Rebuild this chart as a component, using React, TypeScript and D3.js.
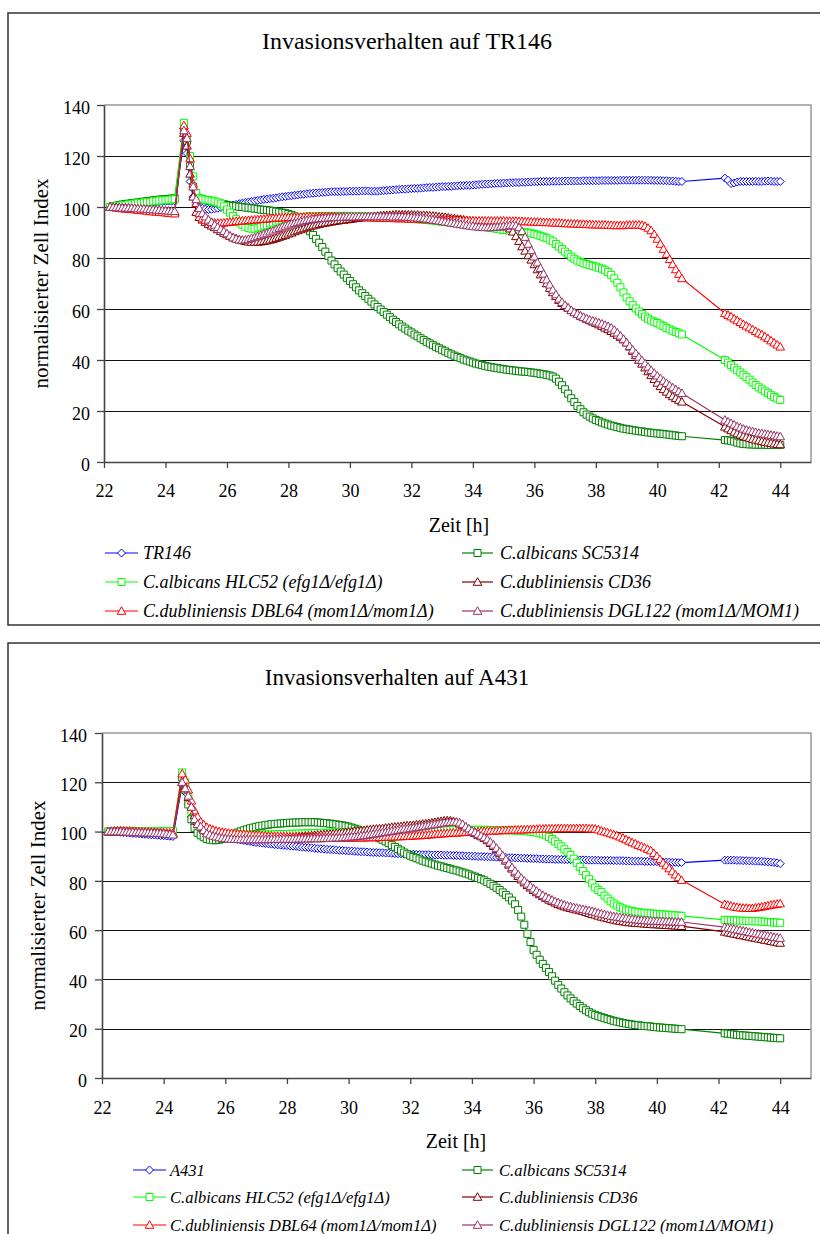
import React, { useEffect, useRef } from 'react'
import * as d3 from 'd3'

// sampling times [h], same for both plates (no readings 40.8 - 42.2)
const hours = [
  22.2, 22.3, 22.4, 22.5, 22.6, 22.7, 22.8, 22.9, 23.0, 23.1, 23.2,
  23.3, 23.4, 23.5, 23.6, 23.7, 23.8, 23.9, 24.0, 24.1, 24.2, 24.3,
  24.6, 24.7, 24.8, 24.9, 25.0, 25.1, 25.2, 25.3, 25.4, 25.5,
  25.6, 25.7, 25.8, 25.9, 26.0, 26.1, 26.2, 26.3, 26.4, 26.5,
  26.6, 26.7, 26.8, 26.9, 27.0, 27.1, 27.2, 27.3, 27.4, 27.5,
  27.6, 27.7, 27.8, 27.9, 28.0, 28.1, 28.2, 28.3, 28.4, 28.5,
  28.6, 28.7, 28.8, 28.9, 29.0, 29.1, 29.2, 29.3, 29.4, 29.5,
  29.6, 29.7, 29.8, 29.9, 30.0, 30.1, 30.2, 30.3, 30.4, 30.5,
  30.6, 30.7, 30.8, 30.9, 31.0, 31.1, 31.2, 31.3, 31.4, 31.5,
  31.6, 31.7, 31.8, 31.9, 32.0, 32.1, 32.2, 32.3, 32.4, 32.5,
  32.6, 32.7, 32.8, 32.9, 33.0, 33.1, 33.2, 33.3, 33.4, 33.5,
  33.6, 33.7, 33.8, 33.9, 34.0, 34.1, 34.2, 34.3, 34.4, 34.5,
  34.6, 34.7, 34.8, 34.9, 35.0, 35.1, 35.2, 35.3, 35.4, 35.5,
  35.6, 35.7, 35.8, 35.9, 36.0, 36.1, 36.2, 36.3, 36.4, 36.5,
  36.6, 36.7, 36.8, 36.9, 37.0, 37.1, 37.2, 37.3, 37.4, 37.5,
  37.6, 37.7, 37.8, 37.9, 38.0, 38.1, 38.2, 38.3, 38.4, 38.5,
  38.6, 38.7, 38.8, 38.9, 39.0, 39.1, 39.2, 39.3, 39.4, 39.5,
  39.6, 39.7, 39.8, 39.9, 40.0, 40.1, 40.2, 40.3, 40.4, 40.5,
  40.6, 40.7, 40.8,
  42.2, 42.3, 42.4, 42.5, 42.6, 42.7, 42.8, 42.9, 43.0, 43.1,
  43.2, 43.3, 43.4, 43.5, 43.6, 43.7, 43.8, 43.9, 44.0,
]

// ---- TR146 plate ----
const tr146 = [
  100, 100.2, 100.3, 100.4, 100.5, 100.7, 100.8, 100.9, 101, 101.1, 101.2,
  101.4, 101.5, 101.7, 101.8, 101.9, 102, 102.1, 102.2, 102.3, 102.3, 102.4,
  126, 121, 110, 104, 101, 100, 99.5, 99.2, 99, 99.1,
  99.3, 99.5, 99.8, 100, 100.3, 100.5, 100.8, 101, 101.3, 101.5,
  101.8, 102, 102.2, 102.4, 102.6, 102.8, 103, 103.1, 103.3, 103.4,
  103.6, 103.8, 104, 104.1, 104.3, 104.4, 104.6, 104.7, 104.9, 105,
  105.2, 105.3, 105.4, 105.5, 105.6, 105.7, 105.8, 105.9, 106, 106,
  106, 106, 106.1, 106.1, 106.2, 106.2, 106.2, 106.2, 106.3, 106.3,
  106.3, 106.2, 106.2, 106.2, 106.3, 106.4, 106.5, 106.6, 106.7, 106.8,
  106.9, 107, 107, 107.1, 107.2, 107.3, 107.3, 107.4, 107.5, 107.6,
  107.7, 107.7, 107.8, 107.9, 108, 108, 108.1, 108.1, 108.2, 108.3,
  108.4, 108.4, 108.5, 108.5, 108.6, 108.7, 108.8, 108.9, 109, 109,
  109.1, 109.2, 109.3, 109.3, 109.4, 109.4, 109.5, 109.5, 109.6, 109.6,
  109.7, 109.7, 109.8, 109.8, 109.9, 109.9, 110, 110, 110, 110,
  110.1, 110.1, 110.1, 110.1, 110.2, 110.2, 110.2, 110.2, 110.2, 110.2,
  110.3, 110.3, 110.3, 110.3, 110.3, 110.3, 110.4, 110.4, 110.4, 110.4,
  110.4, 110.4, 110.5, 110.5, 110.5, 110.5, 110.5, 110.5, 110.5, 110.5,
  110.5, 110.5, 110.5, 110.4, 110.4, 110.4, 110.3, 110.3, 110.2, 110.2,
  110.1, 110, 110,
  111.3, 110.5, 109.2, 109.4, 109.8, 110, 110, 110, 110, 110,
  110.1, 110, 110, 110.1, 110.2, 110.1, 110, 110, 110,
]
const sc5314Tr = [
  100, 100.3, 100.5, 100.8, 101, 101.2, 101.3, 101.5, 101.6, 101.8, 102,
  102.1, 102.3, 102.4, 102.6, 102.7, 102.9, 103, 103.1, 103.2, 103.3, 103.4,
  130, 126, 116, 108, 104.5, 103.5, 103, 102.7, 102.4, 102.2,
  101.8, 101.6, 101.3, 101.1, 100.8, 100.6, 100.4, 100.3, 100.1, 100,
  99.8, 99.7, 99.5, 99.4, 99.2, 99, 98.9, 98.8, 98.6, 98.4,
  98.2, 98, 97.8, 97.6, 97.3, 96.9, 96.3, 95.5, 94.5, 93.3,
  92, 90.5, 89, 87.5, 86, 84.3, 82.5, 80.8, 79, 77.5,
  76, 74.7, 73.5, 72.2, 71, 69.7, 68.5, 67.3, 66.2, 65.1,
  64, 62.9, 61.8, 60.8, 59.8, 58.8, 57.8, 56.8, 55.8, 54.9,
  54, 53.1, 52.3, 51.5, 50.8, 50, 49.3, 48.5, 47.8, 47.1,
  46.5, 45.8, 45.2, 44.6, 44, 43.4, 42.8, 42.2, 41.7, 41.2,
  40.7, 40.2, 39.8, 39.4, 39, 38.6, 38.3, 38, 37.7, 37.4,
  37.2, 37, 36.8, 36.6, 36.4, 36.2, 36.1, 35.9, 35.8, 35.6,
  35.5, 35.4, 35.3, 35.1, 35, 34.8, 34.6, 34.4, 34.2, 33.9,
  33.5, 32.7, 31.5, 30.1, 28.5, 26.8, 25, 23.5, 22, 20.7,
  19.5, 18.6, 17.8, 17.1, 16.5, 16, 15.5, 15.1, 14.7, 14.3,
  14, 13.7, 13.4, 13.1, 12.9, 12.7, 12.5, 12.3, 12.1, 12,
  11.8, 11.6, 11.5, 11.3, 11.2, 11.1, 11, 10.8, 10.7, 10.5,
  10.4, 10.2, 10.1,
  8.6, 8.5, 8.3, 8, 7.6, 7.3, 7.1, 7, 6.9, 6.9,
  6.8, 6.8, 6.8, 6.8, 6.7, 6.7, 6.7, 6.7, 6.7,
]
const hlc52Tr = [
  100, 100.2, 100.3, 100.5, 100.6, 100.8, 101, 101.2, 101.3, 101.5, 101.6,
  101.8, 101.9, 102, 102.2, 102.3, 102.5, 102.6, 102.7, 102.8, 102.9, 103,
  133, 127, 120, 112, 105.5, 103.5, 103, 102.9, 102.7, 102.5,
  102.2, 101.8, 101.3, 100.3, 99, 97.8, 96.5, 95.2, 94, 93,
  92.3, 91.8, 91.5, 91.5, 91.7, 92.1, 92.5, 93, 93.5, 93.9,
  94.3, 94.7, 95, 95.3, 95.5, 95.7, 95.8, 95.9, 96, 96.1,
  96.2, 96.3, 96.3, 96.4, 96.4, 96.5, 96.5, 96.5, 96.5, 96.5,
  96.5, 96.5, 96.5, 96.5, 96.5, 96.5, 96.4, 96.4, 96.3, 96.3,
  96.2, 96.2, 96.1, 96.1, 96, 96, 96, 96, 95.9, 95.9,
  95.8, 95.7, 95.6, 95.5, 95.4, 95.3, 95.2, 95.1, 95, 94.9,
  94.8, 94.7, 94.5, 94.4, 94.2, 94.1, 94, 93.9, 93.7, 93.6,
  93.4, 93.3, 93.1, 93, 92.8, 92.7, 92.5, 92.4, 92.2, 92,
  91.8, 91.6, 91.4, 91.2, 91, 90.9, 90.7, 90.6, 90.4, 90.3,
  90.2, 90.1, 89.9, 89.7, 89.4, 89.1, 88.7, 88.3, 87.8, 87.2,
  86.5, 85.5, 84.5, 83.5, 82.5, 81.5, 80.5, 79.7, 79, 78.5,
  78, 77.6, 77.2, 76.9, 76.6, 76.2, 75.8, 75.2, 74.5, 73.4,
  72, 70.3, 68.5, 66.5, 64.5, 63, 61.5, 60.2, 59, 58,
  57, 56.2, 55.5, 55, 54.5, 53.9, 53.3, 52.6, 52, 51.5,
  51, 50.5, 50,
  40, 39, 38, 37, 36, 35.1, 34.2, 33.3, 32.3, 31.2,
  30.2, 29.3, 28.5, 27.7, 27, 26.2, 25.5, 24.9, 24.3,
]
const cd36Tr = [
  100, 99.9, 99.9, 99.8, 99.8, 99.7, 99.6, 99.5, 99.4, 99.3, 99.2,
  99.1, 99, 98.9, 98.8, 98.6, 98.5, 98.4, 98.3, 98.2, 98, 97.9,
  129, 124, 113, 104, 98, 96, 95, 94.1, 93.3, 92.6,
  92, 91.2, 90.5, 89.8, 89.2, 88.6, 88, 87.6, 87.2, 86.9,
  86.6, 86.4, 86.3, 86.3, 86.3, 86.4, 86.6, 86.8, 87.1, 87.4,
  87.8, 88.2, 88.6, 89, 89.5, 89.9, 90.4, 90.8, 91.2, 91.6,
  92, 92.4, 92.7, 93, 93.3, 93.6, 93.8, 94, 94.2, 94.4,
  94.6, 94.8, 94.9, 95.1, 95.2, 95.4, 95.6, 95.7, 95.9, 96,
  96.2, 96.3, 96.4, 96.5, 96.6, 96.7, 96.8, 96.8, 96.9, 97,
  97, 97, 97, 97, 97, 96.9, 96.9, 96.8, 96.8, 96.7,
  96.6, 96.5, 96.4, 96.2, 96.1, 96, 95.8, 95.6, 95.5, 95.3,
  95.2, 95, 94.8, 94.6, 94.5, 94.3, 94.2, 94, 93.9, 93.7,
  93.6, 93.4, 93.3, 93.1, 92.8, 92.3, 91.5, 90.3, 88.5, 86.6,
  84.5, 82.8, 81, 79.3, 77.5, 75.5, 73.5, 71.7, 70, 68.2,
  66.5, 65, 63.5, 62.3, 61.3, 60.4, 59.5, 58.7, 58, 57.3,
  56.7, 56.1, 55.5, 55, 54.5, 53.9, 53.3, 52.6, 52, 51.3,
  50.6, 49.8, 49, 48, 46.8, 45.2, 43.5, 41.8, 40, 38.5,
  37, 35.5, 34, 32.5, 31, 29.7, 28.5, 27.5, 26.5, 25.7,
  25, 24.3, 23.6,
  13.8, 13.1, 12.4, 11.8, 11.2, 10.7, 10.2, 9.8, 9.4, 9,
  8.7, 8.4, 8.1, 7.8, 7.6, 7.4, 7.2, 7, 6.9,
]
const dbl64Tr = [
  100, 99.9, 99.7, 99.6, 99.4, 99.3, 99.2, 99.1, 99, 98.8, 98.7,
  98.6, 98.5, 98.3, 98.2, 98.1, 98, 97.9, 97.8, 97.6, 97.5, 97.4,
  132, 129, 119, 109, 101.5, 97.5, 95.5, 94.9, 94.5, 94.1,
  93.8, 93.7, 93.7, 93.8, 94, 94.1, 94.2, 94.4, 94.5, 94.6,
  94.7, 94.8, 94.9, 95, 95.1, 95.2, 95.3, 95.4, 95.5, 95.6,
  95.7, 95.8, 95.8, 95.9, 96, 96, 96, 96, 96.1, 96.1,
  96.2, 96.2, 96.2, 96.2, 96.3, 96.3, 96.3, 96.3, 96.3, 96.3,
  96.2, 96.2, 96.2, 96.1, 96.1, 96, 96, 96, 96, 95.9,
  95.9, 95.8, 95.8, 95.7, 95.7, 95.6, 95.6, 95.6, 95.6, 95.5,
  95.5, 95.5, 95.5, 95.4, 95.4, 95.3, 95.3, 95.2, 95.2, 95.1,
  95.1, 95, 95, 95, 95, 94.9, 94.9, 94.8, 94.8, 94.8,
  94.8, 94.7, 94.7, 94.6, 94.6, 94.6, 94.6, 94.6, 94.6, 94.6,
  94.6, 94.6, 94.6, 94.6, 94.6, 94.5, 94.5, 94.5, 94.5, 94.4,
  94.4, 94.3, 94.3, 94.2, 94.2, 94.1, 94.1, 94, 94, 93.9,
  93.9, 93.8, 93.8, 93.7, 93.6, 93.5, 93.5, 93.4, 93.4, 93.3,
  93.3, 93.2, 93.2, 93.1, 93.1, 93, 93, 93, 92.9, 92.9,
  92.8, 92.8, 92.8, 92.8, 92.9, 93, 93, 93, 93, 92.9,
  92.5, 91.8, 90.8, 89.3, 87.5, 85.5, 83.5, 81.5, 79.5, 77.5,
  75.5, 73.7, 72,
  58.3, 57.6, 57, 56.2, 55.5, 54.8, 54, 53.4, 52.7, 52,
  51.3, 50.6, 50, 49.2, 48.5, 47.6, 46.8, 46, 45.2,
]
const dgl122Tr = [
  100, 99.9, 99.8, 99.8, 99.7, 99.7, 99.6, 99.6, 99.5, 99.4, 99.3,
  99.3, 99.2, 99.1, 99, 98.9, 98.8, 98.7, 98.6, 98.5, 98.4, 98.3,
  130, 127, 116, 108, 103, 99.5, 97.5, 96.2, 95, 94,
  93, 92.1, 91.3, 90.5, 89.6, 88.7, 88, 87.5, 87.2, 87.1,
  87.2, 87.4, 87.8, 88.1, 88.5, 88.9, 89.4, 89.8, 90.3, 90.7,
  91.2, 91.7, 92.2, 92.6, 93, 93.4, 93.7, 94, 94.3, 94.6,
  94.8, 95, 95.2, 95.4, 95.5, 95.6, 95.7, 95.8, 95.9, 96,
  96, 96.1, 96.1, 96.2, 96.2, 96.2, 96.2, 96.3, 96.3, 96.3,
  96.3, 96.3, 96.3, 96.3, 96.3, 96.3, 96.3, 96.3, 96.2, 96.2,
  96.2, 96.2, 96.1, 96.1, 96, 95.9, 95.8, 95.7, 95.5, 95.4,
  95.2, 95, 94.8, 94.6, 94.4, 94.2, 94, 93.8, 93.6, 93.4,
  93.2, 93, 92.8, 92.6, 92.5, 92.3, 92.2, 92.1, 92, 92,
  92, 92.1, 92.2, 92.3, 92.5, 92.6, 92.8, 92.9, 92.7, 92,
  90.5, 88.2, 85.5, 83, 80.5, 78.2, 76, 73.8, 71.5, 69.5,
  67.5, 65.7, 64, 62.7, 61.5, 60.5, 59.5, 58.7, 58, 57.4,
  56.8, 56.3, 55.8, 55.4, 55, 54.6, 54.2, 53.7, 53.2, 52.6,
  51.8, 50.7, 49.5, 48.2, 46.8, 45.4, 44, 42.6, 41.2, 39.9,
  38.6, 37.3, 36, 34.9, 33.8, 32.8, 31.8, 30.9, 30, 29.2,
  28.5, 27.7, 27,
  16.5, 15.8, 15.2, 14.6, 14, 13.5, 13, 12.6, 12.3, 12,
  11.7, 11.4, 11.2, 11, 10.8, 10.6, 10.4, 10.2, 10,
]

// ---- A431 plate ----
const a431 = [
  100, 99.9, 99.9, 99.8, 99.7, 99.6, 99.5, 99.4, 99.3, 99.2, 99.1,
  99, 98.9, 98.8, 98.7, 98.6, 98.5, 98.4, 98.3, 98.2, 98.1, 98,
  119, 116, 111, 106, 103, 101.5, 100.5, 99.9, 99.3, 98.9,
  98.5, 98.2, 98, 97.8, 97.6, 97.4, 97.2, 97, 96.8, 96.6,
  96.4, 96.2, 96, 95.8, 95.6, 95.5, 95.3, 95.2, 95, 94.9,
  94.7, 94.6, 94.5, 94.4, 94.3, 94.2, 94.1, 94, 93.8, 93.7,
  93.6, 93.5, 93.4, 93.2, 93.1, 93, 92.9, 92.8, 92.7, 92.6,
  92.5, 92.4, 92.3, 92.2, 92.1, 92.1, 92, 91.9, 91.8, 91.8,
  91.7, 91.6, 91.5, 91.5, 91.4, 91.4, 91.3, 91.3, 91.2, 91.1,
  91, 91, 90.9, 90.9, 90.8, 90.8, 90.7, 90.7, 90.6, 90.6,
  90.6, 90.5, 90.5, 90.5, 90.5, 90.4, 90.4, 90.4, 90.3, 90.3,
  90.2, 90.2, 90.1, 90.1, 90, 90, 89.9, 89.9, 89.8, 89.8,
  89.7, 89.7, 89.6, 89.6, 89.5, 89.5, 89.4, 89.4, 89.3, 89.3,
  89.2, 89.2, 89.1, 89.1, 89, 89, 88.9, 88.9, 88.8, 88.8,
  88.8, 88.7, 88.7, 88.7, 88.6, 88.6, 88.6, 88.6, 88.5, 88.5,
  88.5, 88.5, 88.4, 88.4, 88.4, 88.4, 88.3, 88.3, 88.3, 88.3,
  88.2, 88.2, 88.2, 88.2, 88.1, 88.1, 88, 88, 88, 88,
  87.9, 87.9, 87.8, 87.8, 87.8, 87.7, 87.7, 87.6, 87.6, 87.5,
  87.5, 87.4, 87.4,
  88.4, 88.4, 88.4, 88.4, 88.3, 88.3, 88.2, 88.2, 88.1, 88.1,
  88, 88, 87.9, 87.8, 87.7, 87.6, 87.5, 87.3, 87,
]
const sc5314A = [
  100, 100, 100, 100, 100, 99.9, 99.9, 99.9, 99.9, 99.8, 99.8,
  99.8, 99.8, 99.8, 99.8, 99.8, 99.8, 99.8, 99.8, 99.8, 99.8, 99.8,
  122, 117, 111, 105, 101.5, 99.5, 98.5, 97.7, 97, 96.7,
  96.5, 96.5, 96.7, 97, 97.5, 98, 98.5, 99.1, 99.6, 100.1,
  100.5, 100.9, 101.3, 101.6, 101.9, 102.2, 102.4, 102.6, 102.8, 103,
  103.1, 103.2, 103.3, 103.4, 103.5, 103.6, 103.6, 103.7, 103.7, 103.8,
  103.8, 103.8, 103.8, 103.8, 103.7, 103.6, 103.5, 103.4, 103.2, 103.1,
  102.9, 102.7, 102.5, 102.3, 102, 101.6, 101.2, 100.8, 100.3, 99.9,
  99.4, 98.9, 98.4, 97.9, 97.3, 96.7, 96, 95.3, 94.5, 93.8,
  93, 92.3, 91.5, 90.8, 90.2, 89.7, 89.2, 88.7, 88.2, 87.8,
  87.4, 87, 86.6, 86.2, 85.9, 85.5, 85.2, 84.9, 84.5, 84.2,
  83.8, 83.4, 83, 82.6, 82.1, 81.7, 81.2, 80.7, 80.2, 79.5,
  78.8, 78, 77.2, 76.3, 75.3, 74.3, 73.3, 72, 70.5, 68.2,
  65.5, 62.2, 58.5, 55.2, 52, 50, 48, 46.3, 44.7, 43,
  41.3, 39.5, 37.8, 36.3, 34.8, 33.5, 32.3, 31.2, 30.2, 29.2,
  28.3, 27.5, 26.7, 26.1, 25.5, 25.1, 24.7, 24.3, 23.9, 23.6,
  23.2, 22.9, 22.6, 22.3, 22.1, 21.9, 21.7, 21.5, 21.4, 21.2,
  21.1, 21, 20.9, 20.7, 20.6, 20.5, 20.4, 20.3, 20.2, 20.1,
  20, 19.9, 19.8,
  18.1, 18, 17.8, 17.7, 17.5, 17.4, 17.3, 17.2, 17.1, 17,
  16.9, 16.8, 16.7, 16.6, 16.5, 16.4, 16.3, 16.2, 16.1,
]
const hlc52A = [
  100, 100, 100, 100.1, 100.1, 100.1, 100.1, 100.1, 100.1, 100.1, 100.1,
  100.1, 100.1, 100.1, 100.1, 100.1, 100.1, 100.1, 100.2, 100.2, 100.2, 100.2,
  124, 120, 114, 108.5, 105, 103, 101.8, 101.1, 100.5, 100.1,
  99.7, 99.4, 99.2, 99, 98.9, 98.8, 98.8, 98.7, 98.7, 98.7,
  98.7, 98.7, 98.7, 98.7, 98.7, 98.7, 98.8, 98.8, 98.8, 98.8,
  98.9, 98.9, 99, 99, 99, 99.1, 99.1, 99.1, 99.2, 99.2,
  99.3, 99.3, 99.3, 99.4, 99.4, 99.4, 99.5, 99.5, 99.6, 99.6,
  99.7, 99.7, 99.8, 99.8, 99.9, 99.9, 100, 100, 100, 100,
  100.1, 100.1, 100.2, 100.2, 100.2, 100.2, 100.3, 100.3, 100.3, 100.3,
  100.4, 100.4, 100.4, 100.4, 100.5, 100.5, 100.5, 100.5, 100.5, 100.5,
  100.6, 100.6, 100.6, 100.6, 100.6, 100.6, 100.6, 100.6, 100.7, 100.7,
  100.7, 100.7, 100.7, 100.7, 100.7, 100.7, 100.7, 100.7, 100.7, 100.7,
  100.6, 100.6, 100.6, 100.6, 100.6, 100.6, 100.5, 100.5, 100.4, 100.4,
  100.3, 100.2, 100.1, 100, 99.8, 99.6, 99.3, 98.9, 98.5, 97.8,
  97, 96, 95, 94, 92.8, 91.7, 90.5, 89, 87.3, 85.7,
  84, 82.3, 80.7, 79, 77.3, 76.3, 75.5, 74, 72.8, 71.7,
  70.8, 70, 69.3, 68.8, 68.3, 68, 67.7, 67.5, 67.3, 67.1,
  67, 66.9, 66.8, 66.7, 66.6, 66.5, 66.4, 66.3, 66.2, 66.1,
  66, 65.9, 65.8,
  64.2, 64.1, 64, 64, 63.9, 63.9, 63.8, 63.8, 63.7, 63.7,
  63.6, 63.6, 63.5, 63.4, 63.3, 63.2, 63.1, 63.1, 63,
]
const cd36A = [
  100, 100, 100.1, 100.1, 100.1, 100, 100, 99.9, 99.9, 99.8, 99.8,
  99.7, 99.7, 99.6, 99.6, 99.5, 99.5, 99.4, 99.3, 99.2, 99.1, 99,
  120, 118, 114, 110, 106.5, 104, 102, 101, 100, 99.4,
  98.8, 98.4, 98, 97.7, 97.5, 97.3, 97.2, 97.1, 97, 97,
  97, 97, 97, 97, 97, 97, 97.1, 97.1, 97.2, 97.2,
  97.3, 97.3, 97.4, 97.5, 97.6, 97.7, 97.8, 97.9, 98, 98.1,
  98.2, 98.3, 98.4, 98.5, 98.6, 98.7, 98.8, 98.9, 99, 99.1,
  99.3, 99.4, 99.6, 99.7, 99.9, 100, 100.2, 100.3, 100.4, 100.5,
  100.7, 100.8, 101, 101.1, 101.2, 101.3, 101.5, 101.6, 101.8, 101.9,
  102, 102.1, 102.3, 102.4, 102.5, 102.6, 102.8, 102.9, 103.1, 103.2,
  103.4, 103.6, 103.8, 104, 104.2, 104.4, 104.5, 104.4, 104.2, 103.8,
  103.2, 102.5, 101.7, 100.9, 100, 99.3, 98.6, 98, 97.3, 96.4,
  95.3, 94.1, 92.8, 91.3, 89.7, 88.1, 86.5, 84.9, 83.3, 81.9,
  80.5, 79.3, 78.2, 77.2, 76.2, 75.3, 74.5, 73.7, 73, 72.3,
  71.7, 71.1, 70.5, 70, 69.6, 69.2, 68.9, 68.6, 68.3, 68,
  67.7, 67.3, 66.9, 66.5, 66.2, 65.8, 65.4, 65.1, 64.8, 64.5,
  64.2, 63.9, 63.7, 63.5, 63.3, 63.1, 63, 62.9, 62.8, 62.7,
  62.6, 62.5, 62.4, 62.3, 62.3, 62.2, 62.1, 62, 61.9, 61.9,
  61.8, 61.7, 61.6,
  59.3, 59, 58.8, 58.5, 58.3, 58, 57.8, 57.5, 57.3, 57,
  56.8, 56.5, 56.3, 56, 55.8, 55.5, 55.3, 55, 54.8,
]
const dbl64A = [
  100, 100.2, 100.3, 100.4, 100.5, 100.4, 100.3, 100.3, 100.2, 100.1, 100,
  100, 99.9, 99.9, 99.8, 99.8, 99.7, 99.7, 99.6, 99.5, 99.5, 99.4,
  123.5, 121, 117, 112.5, 108.5, 106, 104, 102.8, 101.8, 101.2,
  100.7, 100.3, 100, 99.8, 99.6, 99.4, 99.3, 99.2, 99.1, 99,
  98.9, 98.8, 98.7, 98.6, 98.5, 98.5, 98.4, 98.3, 98.2, 98.2,
  98.1, 98.1, 98, 98, 97.9, 97.9, 97.8, 97.8, 97.7, 97.7,
  97.6, 97.6, 97.6, 97.6, 97.5, 97.5, 97.5, 97.5, 97.5, 97.5,
  97.5, 97.5, 97.5, 97.5, 97.5, 97.5, 97.5, 97.5, 97.5, 97.5,
  97.6, 97.6, 97.6, 97.6, 97.7, 97.7, 97.8, 97.8, 97.9, 97.9,
  98, 98, 98.1, 98.1, 98.2, 98.3, 98.4, 98.4, 98.5, 98.6,
  98.7, 98.8, 98.9, 99, 99.1, 99.2, 99.3, 99.4, 99.5, 99.5,
  99.6, 99.7, 99.8, 99.8, 99.9, 99.9, 100, 100.1, 100.1, 100.2,
  100.3, 100.3, 100.4, 100.4, 100.5, 100.5, 100.6, 100.6, 100.7, 100.7,
  100.8, 100.8, 100.9, 100.9, 101, 101, 101.1, 101.1, 101.2, 101.2,
  101.2, 101.2, 101.3, 101.3, 101.3, 101.3, 101.3, 101.3, 101.3, 101.3,
  101.3, 101.3, 101.2, 101.2, 101.1, 100.8, 100.3, 100, 99.6, 99.2,
  98.8, 98.4, 97.9, 97.4, 96.8, 96.2, 95.6, 95.1, 94.5, 94,
  93.5, 92.9, 92.3, 91.2, 90, 88.7, 87.3, 86.2, 85, 83.8,
  82.5, 81.4, 80.3,
  70.5, 70.2, 69.8, 69.5, 69.3, 69.1, 69, 69, 68.9, 68.9,
  69.1, 69.3, 69.5, 69.7, 70, 70.2, 70.4, 70.6, 70.8,
]
const dgl122A = [
  100, 100, 100, 100, 100, 99.9, 99.9, 99.8, 99.8, 99.7, 99.7,
  99.6, 99.6, 99.5, 99.5, 99.4, 99.4, 99.3, 99.2, 99, 98.9, 98.7,
  120, 117.5, 114.5, 110, 105, 103, 102, 100.5, 99.2, 98.7,
  98.2, 97.9, 97.6, 97.4, 97.2, 97.1, 97, 96.9, 96.9, 96.8,
  96.8, 96.8, 96.8, 96.8, 96.8, 96.8, 96.8, 96.8, 96.8, 96.9,
  96.9, 96.9, 96.9, 97, 97, 97, 97, 97, 97.1, 97.1,
  97.1, 97.1, 97.2, 97.2, 97.2, 97.2, 97.3, 97.3, 97.4, 97.4,
  97.5, 97.5, 97.6, 97.7, 97.8, 97.9, 98, 98.1, 98.3, 98.4,
  98.6, 98.8, 99, 99.2, 99.4, 99.6, 99.8, 100, 100.2, 100.4,
  100.6, 100.8, 101, 101.1, 101.3, 101.5, 101.7, 101.9, 102.1, 102.3,
  102.5, 102.7, 102.9, 103.1, 103.3, 103.5, 103.7, 103.8, 103.9, 103.9,
  103.6, 103, 102, 101.2, 100.3, 99.7, 99, 98.3, 97.6, 96.8,
  95.8, 94.6, 93.3, 91.8, 90.3, 88.7, 87, 85.5, 84, 82.6,
  81.2, 80, 78.8, 77.8, 76.8, 75.9, 75, 74.2, 73.5, 72.9,
  72.3, 71.7, 71.2, 70.7, 70.3, 69.9, 69.6, 69.3, 69, 68.7,
  68.5, 68.2, 68, 67.7, 67.4, 67, 66.7, 66.4, 66.1, 65.8,
  65.6, 65.4, 65.2, 65, 64.8, 64.6, 64.5, 64.3, 64.2, 64.1,
  64, 63.9, 63.8, 63.7, 63.7, 63.6, 63.6, 63.5, 63.5, 63.4,
  63.4, 63.3, 63.3,
  61.2, 61, 60.7, 60.5, 60.2, 60, 59.7, 59.5, 59.2, 59,
  58.7, 58.5, 58.2, 58, 57.7, 57.5, 57.2, 57, 56.8,
]

const xTicks = [22, 24, 26, 28, 30, 32, 34, 36, 38, 40, 42, 44]
const yTicks = [0, 20, 40, 60, 80, 100, 120, 140]

const strains = [
  'C.albicans SC5314',
  'C.albicans HLC52 (efg1Δ/efg1Δ)',
  'C.dubliniensis CD36',
  'C.dubliniensis DBL64 (mom1Δ/mom1Δ)',
  'C.dubliniensis DGL122 (mom1Δ/MOM1)',
]
const colors = ['#0000ff', '#008000', '#00ff00', '#800000', '#ff0000', '#993366']
const markers = ['diamond', 'square', 'square', 'triangle', 'triangle', 'triangle']

const panels = [
  {
    title: 'Invasionsverhalten auf TR146',
    names: ['TR146', ...strains],
    values: [tr146, sc5314Tr, hlc52Tr, cd36Tr, dbl64Tr, dgl122Tr],
    box: [8, 13, 840, 612],
    left: 104, right: 811, top: 105, bottom: 462,
    titleX: 407, titleY: 49, titleSize: 24,
    yTitleX: 48, xTitleX: 459, xTitleY: 532,
    yPad: 7, xPad: 16,
    rows: [553, 582, 611],
    cols: [[105, 138, 143], [462, 493, 500]],
    legendSize: 18,
  },
  {
    title: 'Invasionsverhalten auf A431',
    names: ['A431', ...strains],
    values: [a431, sc5314A, hlc52A, cd36A, dbl64A, dgl122A],
    box: [8, 643, 840, 640],
    left: 102, right: 811, top: 733, bottom: 1078,
    titleX: 397, titleY: 685, titleSize: 23,
    yTitleX: 45, xTitleX: 456, xTitleY: 1148,
    yPad: 8, xPad: 17,
    rows: [1170, 1197, 1225],
    cols: [[133, 166, 170], [462, 493, 499]],
    legendSize: 16.5,
  },
]

const FONT = '"Liberation Serif", "Times New Roman", serif'

function markerPath(kind) {
  if (kind === 'diamond') return 'M0,-4L4,0L0,4L-4,0Z'
  if (kind === 'square') return 'M-3.5,-3.5H3.5V3.5H-3.5Z'
  return 'M0,-4.3L4.3,3.3L-4.3,3.3Z'
}

function drawPanel(svg, p) {
  const g = svg.append('g')
  g.append('rect')
    .attr('x', p.box[0]).attr('y', p.box[1])
    .attr('width', p.box[2]).attr('height', p.box[3])
    .attr('fill', '#fff').attr('stroke', '#333').attr('stroke-width', 1.5)

  g.append('text')
    .attr('x', p.titleX).attr('y', p.titleY)
    .attr('text-anchor', 'middle')
    .style('font-family', FONT).style('font-size', p.titleSize + 'px')
    .text(p.title)

  const x = d3.scaleLinear().domain([22, 45]).range([p.left, p.right])
  const y = d3.scaleLinear().domain([0, 140]).range([p.bottom, p.top])

  // gridlines
  g.append('g').selectAll('line')
    .data(yTicks.filter(v => v > 0 && v < 140))
    .join('line')
    .attr('x1', p.left).attr('x2', p.right)
    .attr('y1', d => Math.round(y(d)) + 0.5).attr('y2', d => Math.round(y(d)) + 0.5)
    .attr('stroke', '#111').attr('stroke-width', 1)

  // plot frame (top / right grey)
  g.append('path')
    .attr('d', `M${p.left},${y(140)}H${p.right}V${y(0)}`)
    .attr('fill', 'none').attr('stroke', '#999').attr('stroke-width', 1.5)

  const yAxis = g.append('g')
    .attr('transform', `translate(${p.left},0)`)
    .call(d3.axisLeft(y).tickValues(yTicks).tickSize(7).tickSizeOuter(0).tickPadding(p.yPad))
  const xAxis = g.append('g')
    .attr('transform', `translate(0,${p.bottom})`)
    .call(d3.axisBottom(x).tickValues(xTicks).tickSize(6).tickSizeOuter(0).tickPadding(p.xPad))
  for (const ax of [yAxis, xAxis]) {
    ax.select('.domain').attr('stroke', '#444').attr('stroke-width', 1.6)
    ax.selectAll('.tick line').attr('stroke', '#444').attr('stroke-width', 1.3)
    ax.selectAll('text')
      .style('font-family', FONT).style('font-size', '18px').attr('fill', '#000')
  }
  yAxis.selectAll('text').attr('dy', '0.46em')

  g.append('text')
    .attr('transform', `translate(${p.yTitleX},${(p.top + p.bottom) / 2}) rotate(-90)`)
    .attr('text-anchor', 'middle')
    .style('font-family', FONT).style('font-size', '21px')
    .text('normalisierter Zell Index')
  g.append('text')
    .attr('x', p.xTitleX).attr('y', p.xTitleY)
    .attr('text-anchor', 'middle')
    .style('font-family', FONT).style('font-size', '20px')
    .text('Zeit [h]')

  // series: line first, then hollow markers, in legend order
  const line = d3.line().x(d => x(d[0])).y(d => y(d[1]))
  p.values.forEach((vals, i) => {
    const pts = hours.map((h, k) => [h, vals[k]]).filter(d => d[1] != null)
    const s = g.append('g')
    s.append('path')
      .attr('d', line(pts))
      .attr('fill', 'none').attr('stroke', colors[i]).attr('stroke-width', 1.2)
    s.selectAll('path.m').data(pts).join('path')
      .attr('class', 'm')
      .attr('transform', d => `translate(${x(d[0])},${y(d[1])})`)
      .attr('d', markerPath(markers[i]))
      .attr('fill', '#fff').attr('stroke', colors[i]).attr('stroke-width', 1)
  })

  // legend
  p.names.forEach((name, i) => {
    const c = p.cols[i % 2]
    const ry = p.rows[Math.floor(i / 2)]
    const lg = g.append('g')
    lg.append('line')
      .attr('x1', c[0]).attr('x2', c[1]).attr('y1', ry).attr('y2', ry)
      .attr('stroke', colors[i]).attr('stroke-width', 1.2)
    lg.append('path')
      .attr('transform', `translate(${(c[0] + c[1]) / 2},${ry})`)
      .attr('d', markerPath(markers[i]))
      .attr('fill', '#fff').attr('stroke', colors[i]).attr('stroke-width', 1)
    lg.append('text')
      .attr('x', c[2]).attr('y', ry + 6)
      .style('font-family', FONT).style('font-size', p.legendSize + 'px')
      .style('font-style', 'italic')
      .text(name)
  })
}

export default function App() {
  const ref = useRef(null)

  useEffect(() => {
    const svg = d3.select(ref.current)
    svg.selectAll('*').remove()
    panels.forEach(p => drawPanel(svg, p))
  }, [])

  return (
    <svg
      ref={ref}
      width={820}
      height={1234}
      style={{ position: 'absolute', left: 0, top: 0, background: '#fff' }}
    />
  )
}
